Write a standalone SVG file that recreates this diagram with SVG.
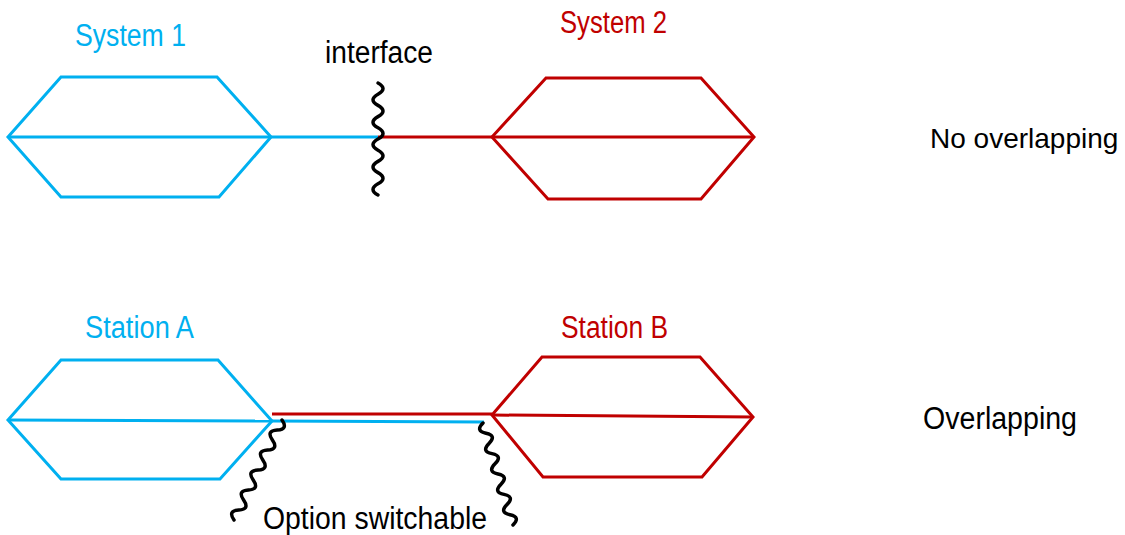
<svg xmlns="http://www.w3.org/2000/svg" width="1125" height="535" viewBox="0 0 1125 535">
<style>
.blue{fill:none;stroke:#00B0F0;stroke-width:3;stroke-linejoin:miter}
.red{fill:none;stroke:#C00000;stroke-width:3;stroke-linejoin:miter}
.wave{fill:none;stroke:#000;stroke-width:3.5;stroke-linecap:round}
text{font-family:"Liberation Sans",Arial,sans-serif;font-size:31px}
.tb{fill:#00B0F0}.tr{fill:#C00000}.tk{fill:#000}
</style>
<rect width="1125" height="535" fill="#fff"/>
<g id="system1">
<polygon class="blue" points="8,137 61,77 217,77 271,137 219,197 61,197"/>
<line class="blue" x1="8" y1="137" x2="271" y2="137"/>
<text class="tb" x="75" y="46" textLength="111" lengthAdjust="spacingAndGlyphs">System 1</text>
</g>
<g id="system2">
<polygon class="red" points="492,137 546,78 701,78 754,137 701,199 548,199"/>
<line class="red" x1="492" y1="137" x2="754" y2="137"/>
<text class="tr" x="560" y="33" textLength="107" lengthAdjust="spacingAndGlyphs">System 2</text>
</g>
<g id="stationA">
<polygon class="blue" points="8,420 61,360 218,360 272,421 220,479 61,479"/>
<line class="blue" x1="8" y1="420" x2="272" y2="421"/>
<text class="tb" x="85" y="338" textLength="109" lengthAdjust="spacingAndGlyphs">Station A</text>
</g>
<g id="stationB">
<polygon class="red" points="492,415 542,357 700,357 753,417 702,477 543,477"/>
<line class="red" x1="492" y1="415" x2="753" y2="417"/>
<text class="tr" x="561" y="338" textLength="107" lengthAdjust="spacingAndGlyphs">Station B</text>
</g>
<g id="connectors">
<line class="blue" x1="271" y1="137" x2="378" y2="137"/>
<line class="red" x1="378" y1="137" x2="492" y2="137"/>
<line class="red" x1="272" y1="414" x2="492" y2="414"/>
<line class="blue" x1="272" y1="421" x2="484" y2="422"/>
</g>
<g id="interface">
<path class="wave" d="M378,83 Q388,88.6 378,94.2 T378,105.4 T378,116.6 T378,127.8 T378,139 T378,150.2 T378,161.4 T378,172.6 T378,183.8 T378,195"/>
<text class="tk" x="325" y="63" textLength="108" lengthAdjust="spacingAndGlyphs">interface</text>
</g>
<g id="switch">
<path class="wave" d="M282,420 Q288.5,429.3 277.2,430 T272.4,440 T267.6,450 T262.8,460 T258,470 T253.2,480 T248.4,490 T243.6,500 T238.8,510 T234,520"/>
<path class="wave" d="M483,423 Q475,430.9 486,433.2 T489,443.4 T492,453.6 T495,463.8 T498,474 T501,484.2 T504,494.4 T507,504.6 T510,514.8 T513,525"/>
<text class="tk" x="263" y="529" textLength="224" lengthAdjust="spacingAndGlyphs">Option switchable</text>
</g>
<g id="labels">
<text class="tk" x="930" y="148" style="font-size:28px">No overlapping</text>
<text class="tk" x="923" y="429" textLength="154" lengthAdjust="spacingAndGlyphs">Overlapping</text>
</g>
</svg>
